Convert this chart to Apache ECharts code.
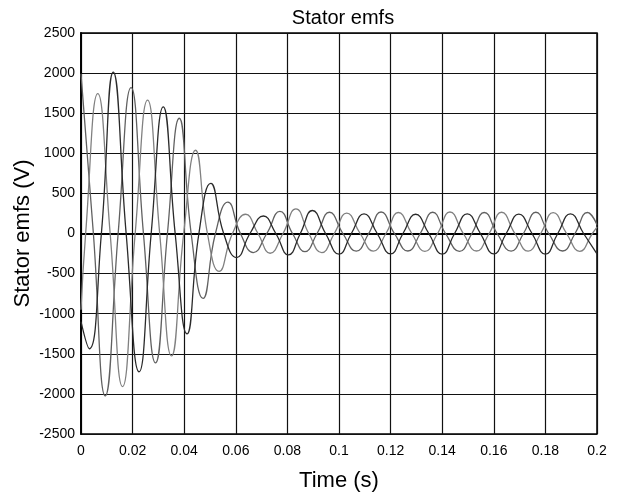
<!DOCTYPE html>
<html>
<head>
<meta charset="utf-8">
<script src="https://cdn.jsdelivr.net/npm/echarts@6/dist/echarts.min.js"></script>
<style>
html,body{margin:0;padding:0;background:#fff;}
#chart{width:625px;height:497px;}
</style>
</head>
<body>
<div id="chart"></div>
<script>
// Tick labels
var xTickLabels = ['0','0.02','0.04','0.06','0.08','0.1','0.12','0.14','0.16','0.18','0.2'];
var yTickLabels = ['-2500','-2000','-1500','-1000','-500','0','500','1000','1500','2000','2500'];

// Phase A: [time (s), emf (V)] read at peaks, troughs and zero crossings
var phaseA = [
  [0,1990],[0.0048,0],[0.0094,-2024],[0.0144,0],[0.0194,1819],[0.0242,0],[0.0289,-1613],[0.0335,0],
  [0.0381,1437],[0.0427,0],[0.0473,-809],[0.0521,0],[0.0569,390],[0.0618,0],[0.0668,-238],[0.0720,0],
  [0.0771,275],[0.0820,0],[0.0868,-226],[0.0915,0],[0.0963,265],[0.1015,0],[0.1067,-220],[0.1115,0],
  [0.1163,268],[0.1215,0],[0.1267,-218],[0.1315,0],[0.1363,265],[0.1413,0],[0.1467,-222],[0.1515,0],
  [0.1563,262],[0.1613,0],[0.1667,-220],[0.1715,0],[0.1763,265],[0.1813,0],[0.1867,-218],[0.1915,0],
  [0.1963,262],[0.2,110]
];
// Phase B
var phaseB = [
  [0,-950],[0.0018,0],[0.0065,1745],[0.0113,0],[0.0161,-1909],[0.0210,0],[0.0258,1662],[0.0305,0],
  [0.0351,-1527],[0.0398,0],[0.0444,1038],[0.0490,0],[0.0535,-472],[0.0587,0],[0.0638,240],[0.0686,0],
  [0.0733,-246],[0.0783,0],[0.0833,308],[0.0883,0],[0.0933,-238],[0.0982,0],[0.1030,255],[0.1082,0],
  [0.1133,-220],[0.1182,0],[0.1230,262],[0.1282,0],[0.1333,-222],[0.1382,0],[0.1430,268],[0.1482,0],
  [0.1533,-218],[0.1582,0],[0.1630,265],[0.1682,0],[0.1733,-220],[0.1782,0],[0.1830,260],[0.1882,0],
  [0.1933,-222],[0.1982,0],[0.2,80]
];
// Phase C
var phaseC = [
  [0,-1100],[0.0032,-1437],[0.0079,0],[0.0125,2011],[0.0175,0],[0.0225,-1724],[0.0272,0],[0.0319,1580],
  [0.0365,0],[0.0411,-1252],[0.0457,0],[0.0503,624],[0.0553,0],[0.0603,-300],[0.0655,0],[0.0707,218],
  [0.0755,0],[0.0804,-267],[0.0850,0],[0.0897,287],[0.0948,0],[0.1000,-258],[0.1048,0],[0.1097,245],
  [0.1148,0],[0.1200,-255],[0.1248,0],[0.1297,240],[0.1348,0],[0.1400,-258],[0.1448,0],[0.1497,245],
  [0.1548,0],[0.1600,-255],[0.1648,0],[0.1697,242],[0.1748,0],[0.1800,-258],[0.1848,0],[0.1897,245],
  [0.1948,0],[0.2000,-255]
];

var chart = echarts.init(document.getElementById('chart'), null, {renderer:'canvas'});
var font = 'Liberation Sans, Arial, Helvetica, sans-serif';
function mkSeries(name, data, color){
  return {name:name, type:'line', data:data, showSymbol:false, smooth:0.5,
    lineStyle:{color:color, width:1.3}, animation:false, z:3};
}
chart.setOption({
  backgroundColor:'#ffffff',
  animation:false,
  title:{text:'Stator emfs', left:338, top:3, textAlign:'center',
    textStyle:{fontFamily:font, fontSize:20, fontWeight:'normal', color:'#000'}},
  grid:{left:81, right:28, top:33, bottom:57, show:true, borderColor:'#000', borderWidth:1.5, backgroundColor:'#fff'},
  xAxis:{type:'value', min:0, max:0.2, interval:0.02,
    name:'Time (s)', nameLocation:'middle', nameGap:36, nameMoveOverlap:false,
    nameTextStyle:{fontFamily:font, fontSize:22, color:'#000'},
    axisLine:{show:true, lineStyle:{color:'#000', width:1.8}},
    axisTick:{show:false},
    axisLabel:{color:'#000', fontFamily:font, fontSize:14, margin:10,
      formatter:function(v){return xTickLabels[Math.round(v/0.02)];}},
    splitLine:{show:true, lineStyle:{color:'#111', width:1.2}}
  },
  yAxis:{type:'value', min:-2500, max:2500, interval:500,
    name:'Stator emfs (V)', nameLocation:'middle', nameGap:47, nameRotate:90, nameMoveOverlap:false,
    nameTextStyle:{fontFamily:font, fontSize:22, color:'#000'},
    axisLine:{show:true, lineStyle:{color:'#000', width:1.8}},
    axisTick:{show:false},
    axisLabel:{color:'#000', fontFamily:font, fontSize:14, margin:6,
      formatter:function(v){return yTickLabels[Math.round((v+2500)/500)];}},
    splitLine:{show:true, lineStyle:{color:'#111', width:1.2}}
  },
  series:[
    mkSeries('A', phaseA, '#606060'),
    mkSeries('B', phaseB, '#808080'),
    mkSeries('C', phaseC, '#2a2a2a')
  ]
});
</script>
</body>
</html>
